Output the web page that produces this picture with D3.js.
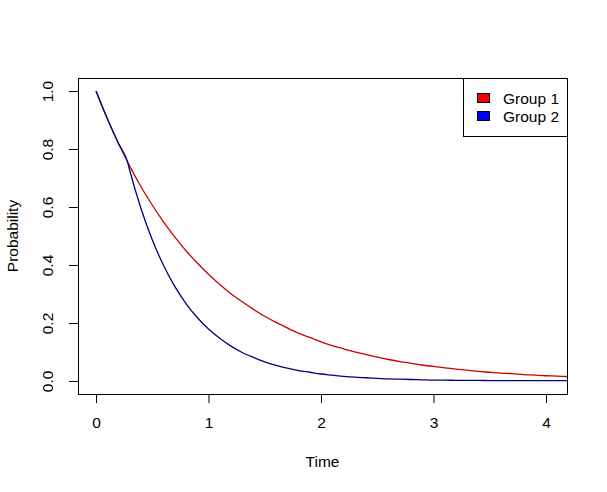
<!DOCTYPE html>
<html>
<head>
<meta charset="utf-8">
<script src="https://cdn.jsdelivr.net/npm/d3@7"></script>
<style>
  body { margin: 0; background: #fff; }
  text { font-family: "Liberation Sans", Arial, sans-serif; fill: #000; }
</style>
</head>
<body>
<div id="chart"></div>
<script>
// Time points (shared by both groups)
const times = [0, 0.1, 0.2, 0.28, 0.3, 0.4, 0.5, 0.6, 0.7, 0.8, 0.9, 1.0,
  1.1, 1.2, 1.3, 1.4, 1.5, 1.6, 1.7, 1.8, 1.9, 2.0,
  2.1, 2.2, 2.3, 2.4, 2.5, 2.6, 2.7, 2.8, 2.9, 3.0,
  3.1, 3.2, 3.3, 3.4, 3.5, 3.6, 3.7, 3.8, 3.9, 4.0, 4.1, 4.2];

// Probability, Group 1 (red)
const group1 = [1.000, 0.905, 0.819, 0.756, 0.741, 0.670, 0.607, 0.549, 0.497, 0.449, 0.407, 0.368,
  0.333, 0.301, 0.273, 0.247, 0.223, 0.202, 0.183, 0.165, 0.150, 0.135,
  0.122, 0.111, 0.100, 0.091, 0.082, 0.074, 0.067, 0.061, 0.055, 0.050,
  0.045, 0.041, 0.037, 0.033, 0.030, 0.027, 0.025, 0.022, 0.020, 0.018, 0.017, 0.015];

// Group 2 (blue) follows group 1 until ~0.28, then drops faster
const group2 = [1.000, 0.905, 0.819, 0.756, 0.726, 0.595, 0.487, 0.399, 0.326, 0.267, 0.219, 0.179,
  0.147, 0.120, 0.098, 0.081, 0.066, 0.054, 0.044, 0.036, 0.030, 0.024,
  0.020, 0.016, 0.013, 0.011, 0.009, 0.007, 0.006, 0.005, 0.004, 0.003,
  0.003, 0.002, 0.002, 0.002, 0.001, 0.001, 0.001, 0.001, 0.001, 0.001, 0.001, 0.001];

const xTicks = [0, 1, 2, 3, 4];
const yTicks = [0, 0.2, 0.4, 0.6, 0.8, 1.0];
const legendNames = ["Group 1", "Group 2"];

const width = 607, height = 492;
const box = { left: 78, top: 78, right: 567, bottom: 394 };
const fontSize = "15.5px";
const lineColors = ["#CD0000", "#00008B"];
const fillColors = ["#FF0000", "#0000FF"];

const svg = d3.select("#chart").append("svg")
  .attr("width", width)
  .attr("height", height);

const x = d3.scaleLinear().domain([-0.16, 4.187]).range([box.left, box.right]);
const y = d3.scaleLinear().domain([-0.045, 1.045]).range([box.bottom, box.top]);

// clip lines to plot region like base R
svg.append("clipPath").attr("id", "plotclip")
  .append("rect")
  .attr("x", box.left).attr("y", box.top)
  .attr("width", box.right - box.left).attr("height", box.bottom - box.top);

const series = [group1, group2];
const line = d3.line()
  .x((d, i) => x(times[i]))
  .y(d => y(d))
  .curve(d3.curveMonotoneX);

svg.append("g")
  .attr("clip-path", "url(#plotclip)")
  .selectAll("path")
  .data(series)
  .join("path")
  .attr("fill", "none")
  .attr("stroke", (d, i) => lineColors[i])
  .attr("stroke-width", 1.3)
  .attr("d", line);

// x axis (ticks below the box, R style)
const xAxis = svg.append("g")
  .attr("transform", `translate(0,${box.bottom})`)
  .call(d3.axisBottom(x).tickValues(xTicks).tickSize(9).tickPadding(14).tickFormat(d3.format("d")));
xAxis.select(".domain").remove();
xAxis.selectAll("line").attr("stroke", "#000");
xAxis.selectAll("text").attr("font-size", fontSize).attr("font-family", null).attr("fill", "#000");

// y axis with rotated labels
const yAxis = svg.append("g")
  .attr("transform", `translate(${box.left},0)`)
  .call(d3.axisLeft(y).tickValues(yTicks).tickSize(9).tickFormat(d3.format(".1f")));
yAxis.select(".domain").remove();
yAxis.selectAll("line").attr("stroke", "#000");
yAxis.selectAll("text")
  .attr("font-size", fontSize)
  .attr("font-family", null)
  .attr("fill", "#000")
  .attr("x", null).attr("dy", null)
  .attr("text-anchor", "middle")
  .attr("transform", "translate(-25,0) rotate(-90)");

// plot box
svg.append("rect")
  .attr("x", box.left + 0.5).attr("y", box.top + 0.5)
  .attr("width", box.right - box.left).attr("height", box.bottom - box.top)
  .attr("fill", "none")
  .attr("stroke", "#000");

// axis titles
svg.append("text")
  .attr("x", (box.left + box.right) / 2)
  .attr("y", 467)
  .attr("text-anchor", "middle")
  .attr("font-size", fontSize)
  .text("Time");

svg.append("text")
  .attr("transform", `translate(18,${(box.top + box.bottom) / 2}) rotate(-90)`)
  .attr("text-anchor", "middle")
  .attr("font-size", fontSize)
  .text("Probability");

// legend
const legend = svg.append("g");
legend.append("rect")
  .attr("x", 463.5).attr("y", box.top + 0.5)
  .attr("width", box.right - 463).attr("height", 58)
  .attr("fill", "#fff")
  .attr("stroke", "#000");

legendNames.forEach((name, i) => {
  const cy = 98.5 + i * 18;
  legend.append("rect")
    .attr("x", 477.5).attr("y", cy - 5)
    .attr("width", 12).attr("height", 9)
    .attr("fill", fillColors[i])
    .attr("stroke", "#000");
  legend.append("text")
    .attr("x", 503).attr("y", cy + 5)
    .attr("font-size", fontSize)
    .text(name);
});
</script>
</body>
</html>
